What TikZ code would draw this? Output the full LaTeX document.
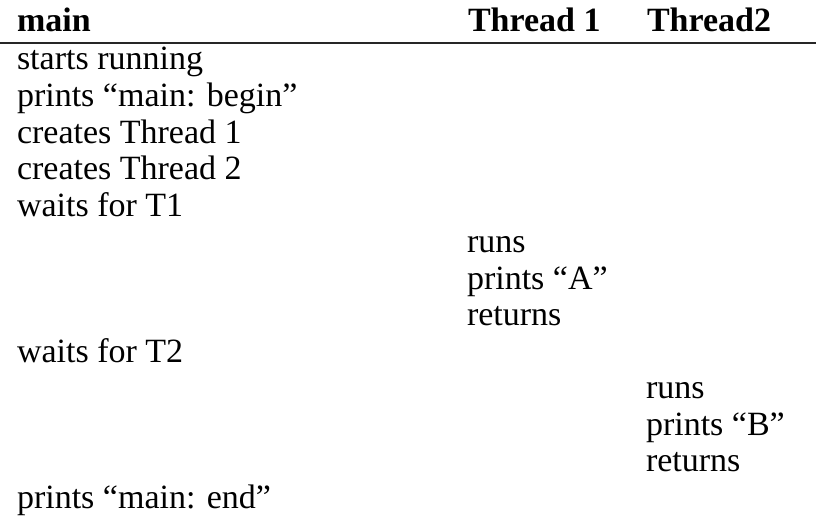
\documentclass[tikz,border=0pt]{standalone}
\usepackage{fontspec}
\setmainfont{Liberation Serif}
\begin{document}
\begin{tikzpicture}[x=1pt,y=-1pt,
  txt/.style={anchor=base west, inner sep=0pt, outer sep=0pt, font=\fontsize{34}{40}\selectfont},
  hdr/.style={txt, font=\fontsize{34}{40}\selectfont\bfseries},
  rulestyle/.style={line width=1.3pt, draw=black!85}]
\useasboundingbox (0,0) rectangle (816,519);
% header
\node[hdr] (hmain) at (17,32) {main};
\node[hdr] (hone) at (468,32) {Thread 1};
\node[hdr] (htwo) at (647,32) {Thread2};
\coordinate (ruleL) at (0,43);
\coordinate (ruleR) at (816,43);
\draw[rulestyle] (ruleL) -- (ruleR);
% main column
\node[txt] (m1) at (17,70) {starts running};
\node[txt] (m2) at (17,106.5) {prints “main: begin”};
\node[txt] (m3) at (17,143) {creates Thread 1};
\node[txt] (m4) at (17,179.5) {creates Thread 2};
\node[txt] (m5) at (17,216) {waits for T1};
\node[txt] (m6) at (17,362) {waits for T2};
\node[txt] (m7) at (17,508) {prints “main: end”};
% thread 1 column
\node[txt] (a1) at (467,252.5) {runs};
\node[txt] (a2) at (467,289) {prints “A”};
\node[txt] (a3) at (467,325.5) {returns};
% thread 2 column
\node[txt] (b1) at (646,398.5) {runs};
\node[txt] (b2) at (646,435) {prints “B”};
\node[txt] (b3) at (646,471.5) {returns};
\end{tikzpicture}
\end{document}
